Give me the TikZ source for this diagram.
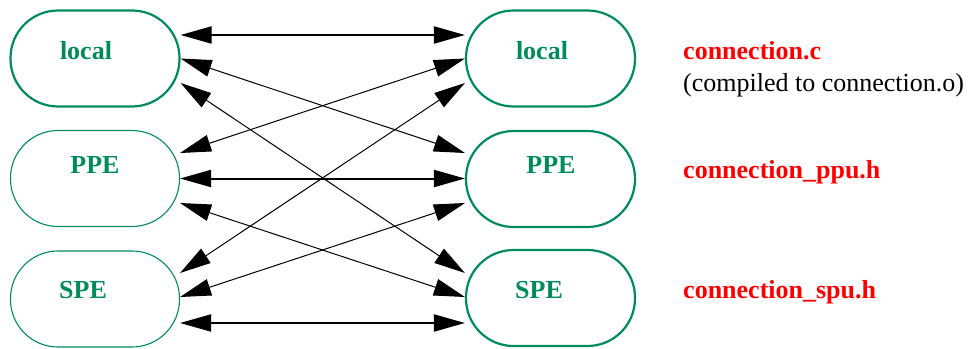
\documentclass[tikz,border=0pt]{standalone}
\usepackage{fontspec}
\setmainfont{Liberation Serif}
\usetikzlibrary{arrows.meta}
\definecolor{boxgreen}{RGB}{0,140,90}
\begin{document}
\begin{tikzpicture}[x=1pt,y=-1pt,
  box/.style={draw=boxgreen, rounded corners=47.5pt, minimum width=169pt, minimum height=96pt, inner sep=0pt, line width=2.2pt},
  thinbox/.style={box, line width=1.1pt},
  lbl/.style={text=boxgreen, font=\fontsize{26}{30}\selectfont\bfseries, anchor=base, inner sep=0pt},
  file/.style={text=red, font=\fontsize{26}{30}\selectfont\bfseries, anchor=base west, inner sep=0pt},
  note/.style={font=\fontsize{26}{30}\selectfont, anchor=base west, inner sep=0pt},
  link/.style={arrows={Triangle[length=31pt,width=17pt]-Triangle[length=31pt,width=17pt]}, line width=1pt},
  hlink/.style={link, line width=2pt}]
\useasboundingbox (0,0) rectangle (974,348);
% boxes
\node[box]     (L1) at (95,58.5) {};
\node[thinbox] (L2) at (95,178.5) {};
\node[thinbox] (L3) at (95,299) {};
\node[box]     (R1) at (550.5,58.5) {};
\node[box]     (R2) at (550.5,179) {};
\node[box]     (R3) at (550.5,298) {};
% box labels
\node[lbl] (tL1) at (86,59) {local};
\node[lbl] (tL2) at (95,173) {PPE};
\node[lbl] (tL3) at (83,298) {SPE};
\node[lbl] (tR1) at (542,59) {local};
\node[lbl] (tR2) at (551,173) {PPE};
\node[lbl] (tR3) at (539,298) {SPE};
% file labels
\node[file] (f1) at (683,59) {connection.c};
\node[note] (f1n) at (683,91) {(compiled to connection.o)};
\node[file] (f2) at (683,178) {connection\_ppu.h};
\node[file] (f3) at (683,298) {connection\_spu.h};
% connectors
\draw[hlink] ([yshift=23.5pt]L1.east) -- ([yshift=23.5pt]R1.west);
\draw[hlink] (L2.east) -- ([yshift=0.5pt]R2.west);
\draw[hlink] ([yshift=-24pt]L3.east) -- ([yshift=-25pt]R3.west);
\draw[link] (L1.east) -- ([yshift=26pt]R2.west);
\draw[link] ([yshift=-24.5pt]L1.east) -- ([yshift=25pt]R3.west);
\draw[link] (R1.west) -- ([yshift=25.5pt]L2.east);
\draw[link] ([yshift=-24.5pt]R1.west) -- ([yshift=26pt]L3.east);
\draw[link] ([yshift=-24.5pt]L2.east) -- ([yshift=1pt]R3.west);
\draw[link] ([yshift=-24pt]R2.west) -- ([yshift=2pt]L3.east);
\end{tikzpicture}
\end{document}
